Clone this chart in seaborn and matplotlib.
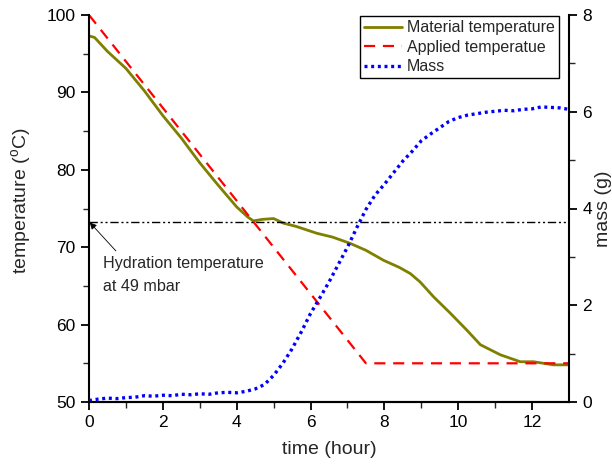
import numpy as np
import pandas as pd
import matplotlib
matplotlib.use("Agg")
import matplotlib.pyplot as plt
import seaborn as sns

# ---- data ----
mat_time = [0, 0.15, 0.5, 1, 1.5, 2, 2.5, 3, 3.5, 4, 4.3, 4.45, 4.7, 5.0, 5.27, 5.6, 6.17,
            6.6, 7.07, 7.5, 7.98, 8.4, 8.7, 8.97, 9.33, 9.78, 10.23, 10.6, 11.14, 11.68,
            12.04, 12.58, 13]
mat_temp = [97.3, 97.1, 95.3, 93.1, 90.2, 87.0, 84.1, 80.9, 78.0, 75.2, 73.9, 73.4, 73.6,
            73.7, 73.1, 72.7, 71.8, 71.3, 70.5, 69.6, 68.3, 67.4, 66.6, 65.5, 63.6, 61.5,
            59.3, 57.4, 56.1, 55.2, 55.2, 54.8, 54.8]

app_time = [0, 7.5, 13]
app_temp = [100, 55, 55]

mass_time = [0, 0.25, 0.5, 0.75, 1, 1.25, 1.5, 1.75, 2, 2.25, 2.5, 2.75, 3, 3.25, 3.5, 3.75,
             4, 4.25, 4.5, 4.75, 5, 5.25, 5.5, 5.75, 6, 6.25, 6.5, 6.75, 7, 7.25, 7.5, 7.75,
             8, 8.25, 8.5, 8.75, 9, 9.25, 9.5, 9.75, 10, 10.25, 10.5, 10.75, 11, 11.25,
             11.5, 11.75, 12, 12.25, 12.5, 12.75, 13]
mass_val = [0.03, 0.06, 0.08, 0.07, 0.09, 0.1, 0.13, 0.12, 0.14, 0.13, 0.16, 0.15, 0.17,
            0.16, 0.19, 0.2, 0.19, 0.22, 0.27, 0.36, 0.55, 0.8, 1.1, 1.45, 1.83, 2.15, 2.48,
            2.84, 3.2, 3.6, 3.98, 4.28, 4.5, 4.74, 4.98, 5.18, 5.4, 5.54, 5.67, 5.8, 5.88,
            5.93, 5.96, 5.99, 6.01, 6.03, 6.02, 6.05, 6.06, 6.1, 6.09, 6.08, 6.05]

hydration_temp = 73.3

# ---- style ----
sns.set_style("ticks")
plt.rcParams['font.family'] = ['Liberation Sans', 'DejaVu Sans']
plt.rcParams['mathtext.fontset'] = 'custom'
plt.rcParams['mathtext.rm'] = 'Liberation Sans'
plt.rcParams['mathtext.it'] = 'Liberation Sans'

fig = plt.figure(figsize=(6.12, 4.66), dpi=100)
ax = fig.add_axes([89/612, 64/466, 480/612, 387/466])
ax2 = ax.twinx()

olive = '#7f7f00'
df_mat = pd.DataFrame({'t': mat_time, 'T': mat_temp})
df_app = pd.DataFrame({'t': app_time, 'T': app_temp})
df_mass = pd.DataFrame({'t': mass_time, 'm': mass_val})

sns.lineplot(data=df_mat, x='t', y='T', ax=ax, color=olive, lw=2.0, label='Material temperature', legend=False)
sns.lineplot(data=df_app, x='t', y='T', ax=ax, color='#ff0000', lw=1.6, label='Applied temperatue', legend=False)
ax.lines[-1].set_dashes((5, 3.5))
ax.axhline(hydration_temp, color='black', lw=1.0, dashes=(6, 2, 1.5, 2, 1.5, 2))

sns.lineplot(data=df_mass, x='t', y='m', ax=ax2, color='#0000ff', lw=2.4, label='Mass', legend=False)
ax2.lines[-1].set_linestyle((0, (0.9, 1.1)))

ax.set_xlim(0, 13)
ax.set_ylim(50, 100)
ax2.set_ylim(0, 8)
ax.set_xticks([0, 2, 4, 6, 8, 10, 12])
ax.set_xticks(np.arange(1, 13, 2), minor=True)
ax.set_yticks([50, 60, 70, 80, 90, 100])
ax.set_yticks([55, 65, 75, 85, 95], minor=True)
ax2.set_yticks([0, 2, 4, 6, 8])
ax2.set_yticks([1, 3, 5, 7], minor=True)

for a in (ax, ax2):
    a.spines['top'].set_visible(False)
    for s in a.spines.values():
        s.set_linewidth(1.5)
        s.set_color('black')
    a.tick_params(which='major', direction='out', length=6, width=1.3, labelsize=12.5, colors='black')
    a.tick_params(which='minor', direction='out', length=4, width=1.0)
ax2.spines['left'].set_visible(False)
ax.spines['right'].set_visible(False)

ax.set_xlabel('time (hour)', fontsize=14, labelpad=8)
ax.set_ylabel(r'temperature ($^\mathrm{o}$C)', fontsize=14)
ax.yaxis.set_label_coords(-0.117, 0.52)
ax2.set_ylabel('mass (g)', fontsize=14, labelpad=2)

ax.annotate('Hydration temperature\nat 49 mbar', xy=(0.02, hydration_temp - 0.1),
            xytext=(0.38, 68.8), fontsize=11.6, ha='left', va='top', linespacing=1.6,
            arrowprops=dict(arrowstyle='-|>', color='black', lw=0.6, mutation_scale=10,
                            shrinkA=0, shrinkB=0, relpos=(0.08, 1.15)))

h1, l1 = ax.get_legend_handles_labels()
h2, l2 = ax2.get_legend_handles_labels()
leg = ax2.legend(h1 + h2, l1 + l2, loc='upper right', bbox_to_anchor=(0.985, 1.005),
                 fontsize=11.5, frameon=True, fancybox=False, framealpha=1,
                 edgecolor='black', borderpad=0.25, labelspacing=0.28, handlelength=2.4,
                 handletextpad=0.3, borderaxespad=0.2)
leg.get_frame().set_linewidth(1.0)

fig.savefig('out.png', dpi=100)
